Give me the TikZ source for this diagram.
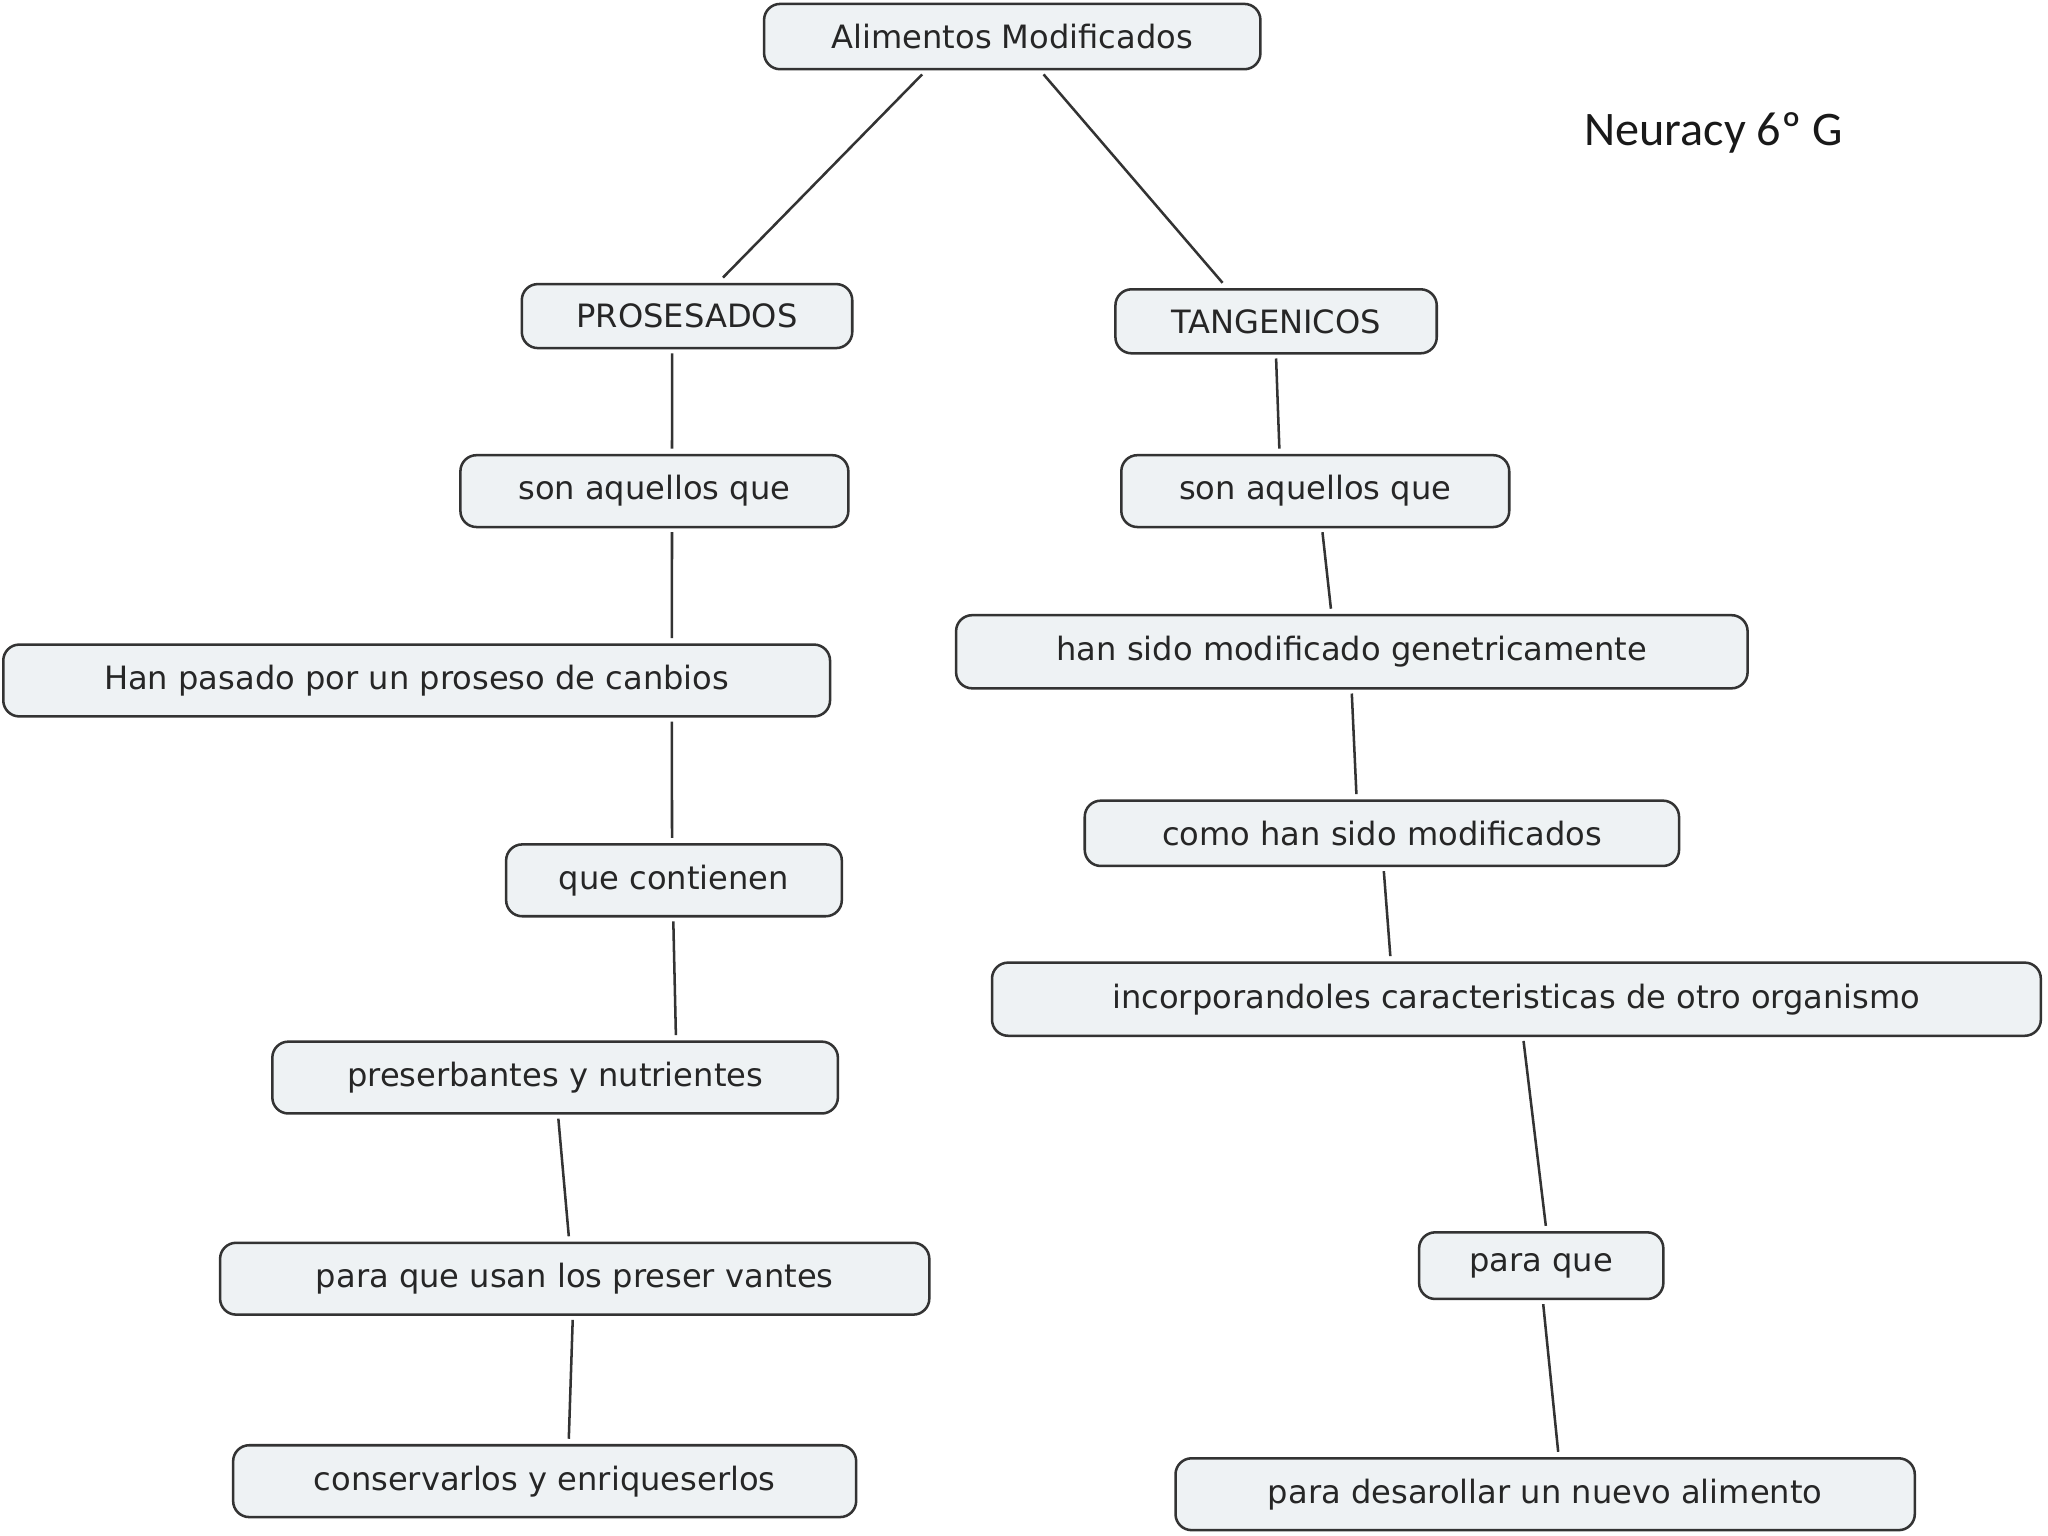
\documentclass[tikz,border=0pt]{standalone}
\usepackage{fontspec}
\setmainfont{DejaVu Sans}
\newfontfamily\calib{Carlito}
\begin{document}
\begin{tikzpicture}[x=0.02cm,y=-0.02cm,
  box/.style={draw=black!80,fill={rgb,255:red,238;green,242;blue,244},rounded corners=7pt,line width=1.1pt,inner sep=0pt,font=\fontsize{14}{16}\selectfont,text=black!85},
  ln/.style={line width=1.1pt,black!80}]
\path[fill=white] (0,0) rectangle (1568,1176);
\newcommand\bx[6]{\node[box,minimum width=#4*0.02cm,minimum height=#5*0.02cm] (#1) at (#2,#3) {#6};}
\bx{alim}{775}{28}{380}{50}{Alimentos Modificados}
\bx{pros}{526}{242}{253}{49}{PROSESADOS}
\bx{tang}{977}{246}{246}{49}{TANGENICOS}
\bx{sonl}{501}{376}{297}{55}{son aquellos que}
\bx{han}{319}{521}{633}{55}{Han pasado por un proseso de canbios}
\bx{que}{516}{674}{257}{55}{que contienen}
\bx{pres}{425}{825}{433}{55}{preserbantes y nutrientes}
\bx{para}{440}{979}{543}{55}{para que usan los preser vantes}
\bx{cons}{417}{1134}{477}{55}{conservarlos y enriqueserlos}
\bx{sonr}{1007}{376}{297}{55}{son aquellos que}
\bx{gen}{1035}{499}{606}{56}{han sido modificado genetricamente}
\bx{como}{1058}{638}{455}{50}{como han sido modificados}
\bx{inc}{1161}{765}{803}{56}{incorporandoles caracteristicas de otro organismo}
\bx{paq}{1180}{969}{187}{51}{para que}
\bx{des}{1183}{1144}{566}{55}{para desarollar un nuevo alimento}
\node[font=\calib\fontsize{21}{24}\selectfont,text=black!90] (neu) at (1312,102) {Neuracy 6º G};
\newcommand\ed[4]{\draw[ln] ([xshift=#2cm,yshift=-0.06cm]#1.south west) -- ([xshift=#4cm,yshift=0.08cm]#3.north west);}
\ed{alim}{2.44}{pros}{3.1}
\ed{alim}{4.3}{tang}{1.66}
\ed{pros}{2.32}{sonl}{3.26}
\ed{sonl}{3.26}{han}{10.26}
\ed{han}{10.26}{que}{2.56}
\ed{que}{2.58}{pres}{6.2}
\ed{pres}{4.4}{para}{5.36}
\ed{para}{5.42}{cons}{5.16}
\ed{tang}{2.48}{sonr}{2.44}
\ed{sonr}{3.1}{gen}{5.76}
\ed{gen}{6.08}{como}{4.18}
\ed{como}{4.6}{inc}{6.12}
\ed{inc}{8.16}{paq}{1.96}
\ed{paq}{1.92}{des}{5.88}
\end{tikzpicture}
\end{document}
